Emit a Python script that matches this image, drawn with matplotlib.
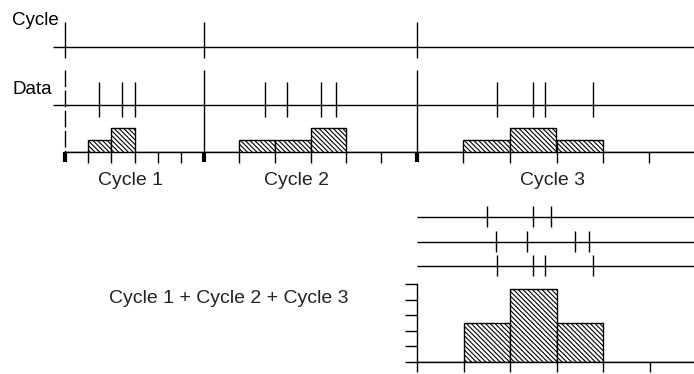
import numpy as np
import matplotlib
matplotlib.use('Agg')
import matplotlib.pyplot as plt
from matplotlib.transforms import blended_transform_factory

plt.rcParams['font.family'] = ['Liberation Sans', 'DejaVu Sans']
plt.rcParams['hatch.linewidth'] = 0.8

# time axis (arbitrary units), cycle boundaries
cycle_bounds = [0, 139, 352, 631]
cycle_names = ['Cycle 1', 'Cycle 2', 'Cycle 3']
cycle_label_x = [66, 231, 488]
# data events per cycle
events = [[34, 57, 70], [200, 222, 256, 271], [432, 468, 480, 528]]
# counts per phase bin (6 bins per cycle)
cycle_counts = [[0, 1, 2, 0, 0, 0],
                [0, 1, 1, 2, 0, 0],
                [0, 1, 2, 1, 0, 0]]
# events expressed as phase (in bins) for the aligned rows
aligned_events = [[1.51, 2.49, 2.88],
                  [1.70, 2.37, 3.40, 3.70],
                  [1.72, 2.49, 2.75, 3.78]]
# summed histogram (tick units)
sum_heights = [0, 2.5, 4.7, 2.5, 0, 0]
n_bins = 6

W, H = 694, 374
fig = plt.figure(figsize=(W / 100, H / 100), dpi=100)

# main layout axes: x = time, y = pixel rows
ax = fig.add_axes([0, 0, 1, 1])
ax.set_xlim(-65, W - 65)
ax.set_ylim(H, 0)
ax.axis('off')

lw = 1.0
hatch = '\\' * 7

# cycle row
ax.hlines(47, -12, W - 65, color='k', lw=lw)
ax.vlines(cycle_bounds[:3], 22, 58, color='k', lw=lw)
ax.text(-53, 25, 'Cycle', fontsize=13.5, va='baseline')

# data row
ax.hlines(105, -12, W - 65, color='k', lw=lw)
ax.text(-53, 94, 'Data', fontsize=13.5, va='baseline')
ax.vlines(cycle_bounds[0], 70, 152, color='k', lw=lw, linestyles=(0, (12, 2.5)))
ax.vlines(cycle_bounds[1:3], 70, 152, color='k', lw=lw)
for ev in events:
    ax.vlines(ev, 82, 117, color='k', lw=lw)

# baseline with bin ticks
ax.hlines(152, -2, W - 65, color='k', lw=lw)
for i in range(3):
    edges = np.linspace(cycle_bounds[i], cycle_bounds[i + 1], n_bins + 1)
    ax.vlines(edges[1:-1], 152, 163, color='k', lw=lw)
    ax.text(cycle_label_x[i], 185, cycle_names[i], fontsize=14,
            ha='center', va='baseline', color='#222222')
ax.vlines(cycle_bounds[:3], 152, 162, color='k', lw=3)

# per-cycle histograms
ax_top = fig.add_axes([0, (H - 152) / H, 1, 36 / H])
ax_top.set_xlim(-65, W - 65)
ax_top.set_ylim(0, 3)
ax_top.axis('off')
for i in range(3):
    edges = np.linspace(cycle_bounds[i], cycle_bounds[i + 1], n_bins + 1)
    width = edges[1] - edges[0]
    ax_top.bar(edges[:-1], cycle_counts[i], width=width, align='edge',
               color='white', edgecolor='k', hatch=hatch, lw=1.0)

# summed histogram
ax_sum = fig.add_axes([417 / W, (H - 362) / H, 279 / W, 78 / H])
ax_sum.set_xlim(0, n_bins)
ax_sum.set_ylim(0, 5)
ax_sum.bar(np.arange(n_bins), sum_heights, width=1, align='edge',
           color='white', edgecolor='k', hatch=hatch, lw=1.0)
ax_sum.set_xticks(range(n_bins))
ax_sum.set_yticks(range(6))
ax_sum.tick_params(axis='x', length=7.5, width=1, labelbottom=False)
ax_sum.tick_params(axis='y', length=8.5, width=1, labelleft=False)
for s in ['top', 'right']:
    ax_sum.spines[s].set_visible(False)
for s in ['left', 'bottom']:
    ax_sum.spines[s].set_linewidth(1)
ax_sum.patch.set_visible(False)

# aligned event rows above the summed histogram
trans = blended_transform_factory(ax_sum.transData, ax.transData)
for row_y, ev in zip([217, 242, 266], aligned_events):
    ax.hlines(row_y, 0, n_bins, color='k', lw=lw, transform=trans)
    ax.vlines(ev, row_y - 11, row_y + 10, color='k', lw=lw, transform=trans)

ax.text(164, 303, 'Cycle 1 + Cycle 2 + Cycle 3', fontsize=14,
        ha='center', va='baseline', color='#222222')

fig.savefig('out.png', dpi=100)
